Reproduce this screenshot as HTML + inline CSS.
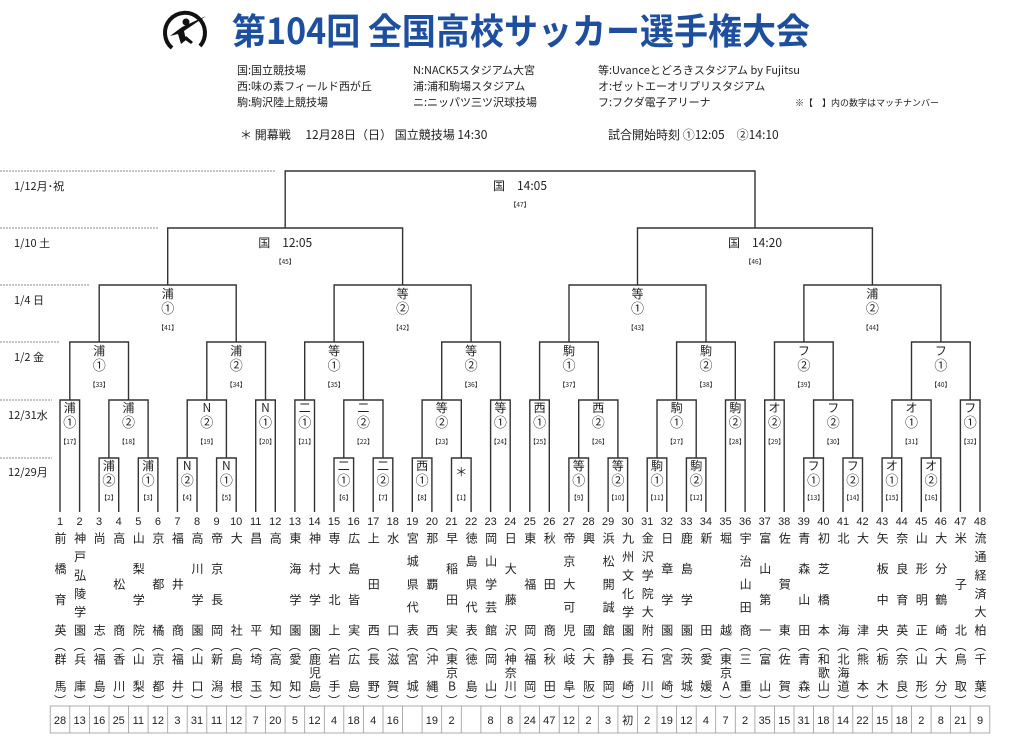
<!DOCTYPE html>
<html><head><meta charset="utf-8">
<style>
body{margin:0;background:#fff;}
#w{position:relative;width:1024px;height:737px;overflow:hidden;font-family:"Liberation Sans","Noto Sans CJK JP",sans-serif;color:#222;}
svg{position:absolute;left:0;top:0;}
.n,.p{position:absolute;width:16px;writing-mode:vertical-rl;text-orientation:upright;text-align:justify;text-align-last:justify;text-justify:inter-character;font-size:12px;line-height:16px;font-family:"Noto Sans CJK JP",sans-serif;color:#222;}
.n{top:532px;height:104px;}
.p{top:653px;height:39px;}
</style></head><body><div id="w">
<svg width="1024" height="737" viewBox="0 0 1024 737" font-family="Liberation Sans, Noto Sans CJK JP, sans-serif">
<!-- logo -->
<g fill="none" stroke="#111" stroke-width="4">
<path d="M172 48 A20 20 0 1 1 200 46"/>
</g>
<g fill="#111"><circle cx="186" cy="22" r="3.5"/><path d="M170 36 L182 27 L206 16 L184 31 L186 40 L181 44 L178 34 Z"/><path d="M186 36 L193 42 L191 44 L184 39Z"/></g>
<text x="232" y="44" font-size="36" font-weight="bold" fill="#1d4f9e" textLength="578" lengthAdjust="spacingAndGlyphs" font-family="Noto Sans CJK JP, sans-serif">第104回 全国高校サッカー選手権大会</text>
<g font-size="11" fill="#222" font-family="Noto Sans CJK JP, sans-serif">
<text x="237" y="74">国:国立競技場</text>
<text x="237" y="90">西:味の素フィールド西が丘</text>
<text x="237" y="106">駒:駒沢陸上競技場</text>
<text x="413" y="74">N:NACK5スタジアム大宮</text>
<text x="413" y="90">浦:浦和駒場スタジアム</text>
<text x="413" y="106">ニ:ニッパツ三ツ沢球技場</text>
<text x="598" y="74">等:Uvanceとどろきスタジアム by Fujitsu</text>
<text x="598" y="90">オ:ゼットエーオリプリスタジアム</text>
<text x="598" y="106">フ:フクダ電子アリーナ</text>
<text x="795" y="106" font-size="9">※【　】内の数字はマッチナンバー</text>
<text x="240" y="139" font-size="12">＊ 開幕戦　 12月28日（日） 国立競技場  14:30</text>
<text x="608" y="139" font-size="12">試合開始時刻  ①12:05　②14:10</text>
</g>
<!-- date lines -->
<g stroke="#666" stroke-width="0.8" stroke-dasharray="2,1">
<line x1="0" y1="171" x2="275" y2="171"/><line x1="0" y1="228" x2="158" y2="228"/><line x1="0" y1="285" x2="90" y2="285"/><line x1="0" y1="342" x2="60" y2="342"/><line x1="0" y1="400" x2="52" y2="400"/><line x1="0" y1="458" x2="52" y2="458"/>
</g>
<g font-size="11" fill="#222" font-family="Noto Sans CJK JP, sans-serif">
<text x="14" y="190">1/12月･祝</text><text x="14" y="247">1/10 土</text><text x="14" y="304">1/4 日</text><text x="14" y="361">1/2 金</text><text x="8" y="419">12/31水</text><text x="8" y="476">12/29月</text>
</g>
<!-- bracket -->
<g fill="none" stroke="#333" stroke-width="1.4">
<path d="M60 512V400H79.6V512"/>
<path d="M99.1 512V458H118.7V512"/><path d="M138.3 512V458H157.9V512"/><path d="M177.4 512V458H197V512"/><path d="M216.6 512V458H236.2V512"/>
<path d="M255.7 512V400H275.3V512"/><path d="M294.9 512V400H314.5V512"/>
<path d="M334 512V458H353.6V512"/><path d="M373.2 512V458H392.8V512"/><path d="M412.3 512V458H431.9V512"/><path d="M451.5 512V458H471.1V512"/>
<path d="M490.6 512V400H510.2V512"/><path d="M529.8 512V400H549.3V512"/>
<path d="M568.9 512V458H588.5V512"/><path d="M608.1 512V458H627.6V512"/><path d="M647.2 512V458H666.8V512"/><path d="M686.4 512V458H705.9V512"/>
<path d="M725.5 512V400H745.1V512"/><path d="M764.7 512V400H784.2V512"/>
<path d="M803.8 512V458H823.4V512"/><path d="M843 512V458H862.5V512"/><path d="M882.1 512V458H901.7V512"/><path d="M921.3 512V458H940.8V512"/>
<path d="M960.4 512V400H980V512"/>
<path d="M108.9 458V400H148.1V458"/><path d="M187.2 458V400H226.4V458"/><path d="M343.8 458V400H383V458"/><path d="M422.1 458V400H461.3V458"/>
<path d="M578.7 458V400H617.9V458"/><path d="M657 458V400H696.2V458"/><path d="M813.6 458V400H852.8V458"/><path d="M891.9 458V400H931.1V458"/>
<path d="M69.8 400V342H128.5V400"/><path d="M206.8 400V342H265.5V400"/><path d="M304.7 400V342H363.4V400"/><path d="M441.7 400V342H500.4V400"/>
<path d="M539.6 400V342H598.3V400"/><path d="M676.6 400V342H735.3V400"/><path d="M774.5 400V342H833.2V400"/><path d="M911.5 400V342H970.2V400"/>
<path d="M99.2 342V285H236.2V342"/><path d="M334.1 342V285H471.1V342"/><path d="M569 342V285H706V342"/><path d="M803.9 342V285H940.9V342"/>
<path d="M167.7 285V228H402.6V285"/><path d="M637.5 285V228H872.4V285"/>
<path d="M285.2 228V171H755V228"/>
</g>
<!-- labels -->
<g font-family="Noto Sans CJK JP, sans-serif" fill="#222" text-anchor="middle">
<g font-size="12">
<text x="108.9" y="470">浦</text><text x="148.1" y="470">浦</text><text x="187.2" y="470">N</text><text x="226.4" y="470">N</text><text x="343.8" y="470">二</text><text x="383" y="470">二</text><text x="422.1" y="470">西</text><text x="461.3" y="476">＊</text>
<text x="578.7" y="470">等</text><text x="617.9" y="470">等</text><text x="657" y="470">駒</text><text x="696.2" y="470">駒</text><text x="813.6" y="470">フ</text><text x="852.8" y="470">フ</text><text x="891.9" y="470">オ</text><text x="931.1" y="470">オ</text>
<text x="69.8" y="412">浦</text><text x="128.5" y="412">浦</text><text x="206.8" y="412">N</text><text x="265.5" y="412">N</text><text x="304.7" y="412">二</text><text x="363.4" y="412">二</text><text x="441.7" y="412">等</text><text x="500.4" y="412">等</text>
<text x="539.6" y="412">西</text><text x="598.3" y="412">西</text><text x="676.6" y="412">駒</text><text x="735.3" y="412">駒</text><text x="774.5" y="412">オ</text><text x="833.2" y="412">フ</text><text x="911.5" y="412">オ</text><text x="970.2" y="412">フ</text>
<text x="99.2" y="355">浦</text><text x="236.2" y="355">浦</text><text x="334.1" y="355">等</text><text x="471.1" y="355">等</text><text x="569" y="355">駒</text><text x="706" y="355">駒</text><text x="803.9" y="355">フ</text><text x="940.9" y="355">フ</text>
<text x="167.7" y="298">浦</text><text x="402.6" y="298">等</text><text x="637.5" y="298">等</text><text x="872.4" y="298">浦</text>
<text x="285.2" y="247">国　12:05</text><text x="755" y="247">国　14:20</text><text x="520" y="190">国　14:05</text>
</g>
<g font-size="13">
<text x="108.9" y="485">②</text><text x="148.1" y="485">①</text><text x="187.2" y="485">②</text><text x="226.4" y="485">①</text><text x="343.8" y="485">①</text><text x="383" y="485">②</text><text x="422.1" y="485">①</text>
<text x="578.7" y="485">①</text><text x="617.9" y="485">②</text><text x="657" y="485">①</text><text x="696.2" y="485">②</text><text x="813.6" y="485">①</text><text x="852.8" y="485">②</text><text x="891.9" y="485">①</text><text x="931.1" y="485">②</text>
<text x="69.8" y="427">①</text><text x="128.5" y="427">②</text><text x="206.8" y="427">②</text><text x="265.5" y="427">①</text><text x="304.7" y="427">①</text><text x="363.4" y="427">②</text><text x="441.7" y="427">②</text><text x="500.4" y="427">①</text>
<text x="539.6" y="427">①</text><text x="598.3" y="427">②</text><text x="676.6" y="427">①</text><text x="735.3" y="427">②</text><text x="774.5" y="427">②</text><text x="833.2" y="427">②</text><text x="911.5" y="427">①</text><text x="970.2" y="427">①</text>
<text x="99.2" y="370">①</text><text x="236.2" y="370">②</text><text x="334.1" y="370">①</text><text x="471.1" y="370">②</text><text x="569" y="370">①</text><text x="706" y="370">②</text><text x="803.9" y="370">②</text><text x="940.9" y="370">①</text>
<text x="167.7" y="313">①</text><text x="402.6" y="313">②</text><text x="637.5" y="313">①</text><text x="872.4" y="313">②</text>
</g>
<g font-size="6.5">
<text x="108.9" y="500">【2】</text><text x="148.1" y="500">【3】</text><text x="187.2" y="500">【4】</text><text x="226.4" y="500">【5】</text><text x="343.8" y="500">【6】</text><text x="383" y="500">【7】</text><text x="422.1" y="500">【8】</text><text x="461.3" y="500">【1】</text>
<text x="578.7" y="500">【9】</text><text x="617.9" y="500">【10】</text><text x="657" y="500">【11】</text><text x="696.2" y="500">【12】</text><text x="813.6" y="500">【13】</text><text x="852.8" y="500">【14】</text><text x="891.9" y="500">【15】</text><text x="931.1" y="500">【16】</text>
<text x="69.8" y="444">【17】</text><text x="128.5" y="444">【18】</text><text x="206.8" y="444">【19】</text><text x="265.5" y="444">【20】</text><text x="304.7" y="444">【21】</text><text x="363.4" y="444">【22】</text><text x="441.7" y="444">【23】</text><text x="500.4" y="444">【24】</text>
<text x="539.6" y="444">【25】</text><text x="598.3" y="444">【26】</text><text x="676.6" y="444">【27】</text><text x="735.3" y="444">【28】</text><text x="774.5" y="444">【29】</text><text x="833.2" y="444">【30】</text><text x="911.5" y="444">【31】</text><text x="970.2" y="444">【32】</text>
<text x="99.2" y="387">【33】</text><text x="236.2" y="387">【34】</text><text x="334.1" y="387">【35】</text><text x="471.1" y="387">【36】</text><text x="569" y="387">【37】</text><text x="706" y="387">【38】</text><text x="803.9" y="387">【39】</text><text x="940.9" y="387">【40】</text>
<text x="167.7" y="330">【41】</text><text x="402.6" y="330">【42】</text><text x="637.5" y="330">【43】</text><text x="872.4" y="330">【44】</text>
<text x="285.2" y="264">【45】</text><text x="755" y="264">【46】</text><text x="520" y="207">【47】</text>
</g>
<!-- team numbers -->
<g font-size="11" font-family="Liberation Sans, sans-serif">
<text x="60" y="525">1</text><text x="79.6" y="525">2</text><text x="99.1" y="525">3</text><text x="118.7" y="525">4</text><text x="138.3" y="525">5</text><text x="157.9" y="525">6</text><text x="177.4" y="525">7</text><text x="197" y="525">8</text><text x="216.6" y="525">9</text><text x="236.2" y="525">10</text><text x="255.7" y="525">11</text><text x="275.3" y="525">12</text><text x="294.9" y="525">13</text><text x="314.5" y="525">14</text><text x="334" y="525">15</text><text x="353.6" y="525">16</text><text x="373.2" y="525">17</text><text x="392.8" y="525">18</text><text x="412.3" y="525">19</text><text x="431.9" y="525">20</text><text x="451.5" y="525">21</text><text x="471.1" y="525">22</text><text x="490.6" y="525">23</text><text x="510.2" y="525">24</text>
<text x="529.8" y="525">25</text><text x="549.3" y="525">26</text><text x="568.9" y="525">27</text><text x="588.5" y="525">28</text><text x="608.1" y="525">29</text><text x="627.6" y="525">30</text><text x="647.2" y="525">31</text><text x="666.8" y="525">32</text><text x="686.4" y="525">33</text><text x="705.9" y="525">34</text><text x="725.5" y="525">35</text><text x="745.1" y="525">36</text><text x="764.7" y="525">37</text><text x="784.2" y="525">38</text><text x="803.8" y="525">39</text><text x="823.4" y="525">40</text><text x="843" y="525">41</text><text x="862.5" y="525">42</text><text x="882.1" y="525">43</text><text x="901.7" y="525">44</text><text x="921.3" y="525">45</text><text x="940.8" y="525">46</text><text x="960.4" y="525">47</text><text x="980" y="525">48</text>
</g>
<!-- parens -->
<g font-size="12">
<text x="60" y="650">︵</text><text x="79.6" y="650">︵</text><text x="99.1" y="650">︵</text><text x="118.7" y="650">︵</text><text x="138.3" y="650">︵</text><text x="157.9" y="650">︵</text><text x="177.4" y="650">︵</text><text x="197" y="650">︵</text><text x="216.6" y="650">︵</text><text x="236.2" y="650">︵</text><text x="255.7" y="650">︵</text><text x="275.3" y="650">︵</text><text x="294.9" y="650">︵</text><text x="314.5" y="650">︵</text><text x="334" y="650">︵</text><text x="353.6" y="650">︵</text><text x="373.2" y="650">︵</text><text x="392.8" y="650">︵</text><text x="412.3" y="650">︵</text><text x="431.9" y="650">︵</text><text x="451.5" y="650">︵</text><text x="471.1" y="650">︵</text><text x="490.6" y="650">︵</text><text x="510.2" y="650">︵</text>
<text x="529.8" y="650">︵</text><text x="549.3" y="650">︵</text><text x="568.9" y="650">︵</text><text x="588.5" y="650">︵</text><text x="608.1" y="650">︵</text><text x="627.6" y="650">︵</text><text x="647.2" y="650">︵</text><text x="666.8" y="650">︵</text><text x="686.4" y="650">︵</text><text x="705.9" y="650">︵</text><text x="725.5" y="650">︵</text><text x="745.1" y="650">︵</text><text x="764.7" y="650">︵</text><text x="784.2" y="650">︵</text><text x="803.8" y="650">︵</text><text x="823.4" y="650">︵</text><text x="843" y="650">︵</text><text x="862.5" y="650">︵</text><text x="882.1" y="650">︵</text><text x="901.7" y="650">︵</text><text x="921.3" y="650">︵</text><text x="940.8" y="650">︵</text><text x="960.4" y="650">︵</text><text x="980" y="650">︵</text>
<text x="60" y="705">︶</text><text x="79.6" y="705">︶</text><text x="99.1" y="705">︶</text><text x="118.7" y="705">︶</text><text x="138.3" y="705">︶</text><text x="157.9" y="705">︶</text><text x="177.4" y="705">︶</text><text x="197" y="705">︶</text><text x="216.6" y="705">︶</text><text x="236.2" y="705">︶</text><text x="255.7" y="705">︶</text><text x="275.3" y="705">︶</text><text x="294.9" y="705">︶</text><text x="314.5" y="705">︶</text><text x="334" y="705">︶</text><text x="353.6" y="705">︶</text><text x="373.2" y="705">︶</text><text x="392.8" y="705">︶</text><text x="412.3" y="705">︶</text><text x="431.9" y="705">︶</text><text x="451.5" y="705">︶</text><text x="471.1" y="705">︶</text><text x="490.6" y="705">︶</text><text x="510.2" y="705">︶</text>
<text x="529.8" y="705">︶</text><text x="549.3" y="705">︶</text><text x="568.9" y="705">︶</text><text x="588.5" y="705">︶</text><text x="608.1" y="705">︶</text><text x="627.6" y="705">︶</text><text x="647.2" y="705">︶</text><text x="666.8" y="705">︶</text><text x="686.4" y="705">︶</text><text x="705.9" y="705">︶</text><text x="725.5" y="705">︶</text><text x="745.1" y="705">︶</text><text x="764.7" y="705">︶</text><text x="784.2" y="705">︶</text><text x="803.8" y="705">︶</text><text x="823.4" y="705">︶</text><text x="843" y="705">︶</text><text x="862.5" y="705">︶</text><text x="882.1" y="705">︶</text><text x="901.7" y="705">︶</text><text x="921.3" y="705">︶</text><text x="940.8" y="705">︶</text><text x="960.4" y="705">︶</text><text x="980" y="705">︶</text>
</g>
<!-- count box -->
<g font-size="11" font-family="Liberation Sans, Noto Sans CJK JP, sans-serif">
<text x="60" y="724">28</text><text x="79.6" y="724">13</text><text x="99.1" y="724">16</text><text x="118.7" y="724">25</text><text x="138.3" y="724">11</text><text x="157.9" y="724">12</text><text x="177.4" y="724">3</text><text x="197" y="724">31</text><text x="216.6" y="724">11</text><text x="236.2" y="724">12</text><text x="255.7" y="724">7</text><text x="275.3" y="724">20</text><text x="294.9" y="724">5</text><text x="314.5" y="724">12</text><text x="334" y="724">4</text><text x="353.6" y="724">18</text><text x="373.2" y="724">4</text><text x="392.8" y="724">16</text><text x="431.9" y="724">19</text><text x="451.5" y="724">2</text><text x="490.6" y="724">8</text><text x="510.2" y="724">8</text>
<text x="529.8" y="724">24</text><text x="549.3" y="724">47</text><text x="568.9" y="724">12</text><text x="588.5" y="724">2</text><text x="608.1" y="724">3</text><text x="627.6" y="724">初</text><text x="647.2" y="724">2</text><text x="666.8" y="724">19</text><text x="686.4" y="724">12</text><text x="705.9" y="724">4</text><text x="725.5" y="724">7</text><text x="745.1" y="724">2</text><text x="764.7" y="724">35</text><text x="784.2" y="724">15</text><text x="803.8" y="724">31</text><text x="823.4" y="724">18</text><text x="843" y="724">14</text><text x="862.5" y="724">22</text><text x="882.1" y="724">15</text><text x="901.7" y="724">18</text><text x="921.3" y="724">2</text><text x="940.8" y="724">8</text><text x="960.4" y="724">21</text><text x="980" y="724">9</text>
</g>
</g>
<g stroke="#999" stroke-width="0.8" fill="none">
<rect x="50.2" y="706" width="939.6" height="27"/>
<path d="M69.8 706v27M89.4 706v27M109 706v27M128.5 706v27M148.1 706v27M167.7 706v27M187.2 706v27M206.8 706v27M226.4 706v27M246 706v27M265.5 706v27M285.1 706v27M304.7 706v27M324.3 706v27M343.8 706v27M363.4 706v27M383 706v27M402.6 706v27M422.1 706v27M441.7 706v27M461.3 706v27M480.9 706v27M500.4 706v27M520 706v27M539.6 706v27M559.2 706v27M578.7 706v27M598.3 706v27M617.9 706v27M637.4 706v27M657 706v27M676.6 706v27M696.2 706v27M715.7 706v27M735.3 706v27M754.9 706v27M774.5 706v27M794 706v27M813.6 706v27M833.2 706v27M852.8 706v27M872.3 706v27M891.9 706v27M911.5 706v27M931.1 706v27M950.6 706v27M970.2 706v27"/>
</g>
</svg>
<div class="n" style="left:52px">前橋育英</div><div class="p" style="left:52px">群馬</div>
<div class="n" style="left:71.6px">神戸弘陵学園</div><div class="p" style="left:71.6px">兵庫</div>
<div class="n" style="left:91.1px">尚志</div><div class="p" style="left:91.1px">福島</div>
<div class="n" style="left:110.7px">高松商</div><div class="p" style="left:110.7px">香川</div>
<div class="n" style="left:130.3px">山梨学院</div><div class="p" style="left:130.3px">山梨</div>
<div class="n" style="left:149.9px">京都橘</div><div class="p" style="left:149.9px">京都</div>
<div class="n" style="left:169.4px">福井商</div><div class="p" style="left:169.4px">福井</div>
<div class="n" style="left:189px">高川学園</div><div class="p" style="left:189px">山口</div>
<div class="n" style="left:208.6px">帝京長岡</div><div class="p" style="left:208.6px">新潟</div>
<div class="n" style="left:228.2px">大社</div><div class="p" style="left:228.2px">島根</div>
<div class="n" style="left:247.7px">昌平</div><div class="p" style="left:247.7px">埼玉</div>
<div class="n" style="left:267.3px">高知</div><div class="p" style="left:267.3px">高知</div>
<div class="n" style="left:286.9px">東海学園</div><div class="p" style="left:286.9px">愛知</div>
<div class="n" style="left:306.5px">神村学園</div><div class="p" style="left:306.5px">鹿児島</div>
<div class="n" style="left:326px">専大北上</div><div class="p" style="left:326px">岩手</div>
<div class="n" style="left:345.6px">広島皆実</div><div class="p" style="left:345.6px">広島</div>
<div class="n" style="left:365.2px">上田西</div><div class="p" style="left:365.2px">長野</div>
<div class="n" style="left:384.8px">水口</div><div class="p" style="left:384.8px">滋賀</div>
<div class="n" style="left:404.3px">宮城県代表</div><div class="p" style="left:404.3px">宮城</div>
<div class="n" style="left:423.9px">那覇西</div><div class="p" style="left:423.9px">沖縄</div>
<div class="n" style="left:443.5px">早稲田実</div><div class="p" style="left:443.5px">東京B</div>
<div class="n" style="left:463.1px">徳島県代表</div><div class="p" style="left:463.1px">徳島</div>
<div class="n" style="left:482.6px">岡山学芸館</div><div class="p" style="left:482.6px">岡山</div>
<div class="n" style="left:502.2px">日大藤沢</div><div class="p" style="left:502.2px">神奈川</div>
<div class="n" style="left:521.8px">東福岡</div><div class="p" style="left:521.8px">福岡</div>
<div class="n" style="left:541.3px">秋田商</div><div class="p" style="left:541.3px">秋田</div>
<div class="n" style="left:560.9px">帝京大可児</div><div class="p" style="left:560.9px">岐阜</div>
<div class="n" style="left:580.5px">興國</div><div class="p" style="left:580.5px">大阪</div>
<div class="n" style="left:600.1px">浜松開誠館</div><div class="p" style="left:600.1px">静岡</div>
<div class="n" style="left:619.6px">九州文化学園</div><div class="p" style="left:619.6px">長崎</div>
<div class="n" style="left:639.2px">金沢学院大附</div><div class="p" style="left:639.2px">石川</div>
<div class="n" style="left:658.8px">日章学園</div><div class="p" style="left:658.8px">宮崎</div>
<div class="n" style="left:678.4px">鹿島学園</div><div class="p" style="left:678.4px">茨城</div>
<div class="n" style="left:697.9px">新田</div><div class="p" style="left:697.9px">愛媛</div>
<div class="n" style="left:717.5px">堀越</div><div class="p" style="left:717.5px">東京A</div>
<div class="n" style="left:737.1px">宇治山田商</div><div class="p" style="left:737.1px">三重</div>
<div class="n" style="left:756.7px">富山第一</div><div class="p" style="left:756.7px">富山</div>
<div class="n" style="left:776.2px">佐賀東</div><div class="p" style="left:776.2px">佐賀</div>
<div class="n" style="left:795.8px">青森山田</div><div class="p" style="left:795.8px">青森</div>
<div class="n" style="left:815.4px">初芝橋本</div><div class="p" style="left:815.4px">和歌山</div>
<div class="n" style="left:835px">北海</div><div class="p" style="left:835px">北海道</div>
<div class="n" style="left:854.5px">大津</div><div class="p" style="left:854.5px">熊本</div>
<div class="n" style="left:874.1px">矢板中央</div><div class="p" style="left:874.1px">栃木</div>
<div class="n" style="left:893.7px">奈良育英</div><div class="p" style="left:893.7px">奈良</div>
<div class="n" style="left:913.3px">山形明正</div><div class="p" style="left:913.3px">山形</div>
<div class="n" style="left:932.8px">大分鶴崎</div><div class="p" style="left:932.8px">大分</div>
<div class="n" style="left:952.4px">米子北</div><div class="p" style="left:952.4px">鳥取</div>
<div class="n" style="left:972px">流通経済大柏</div><div class="p" style="left:972px">千葉</div>
</div></body></html>
